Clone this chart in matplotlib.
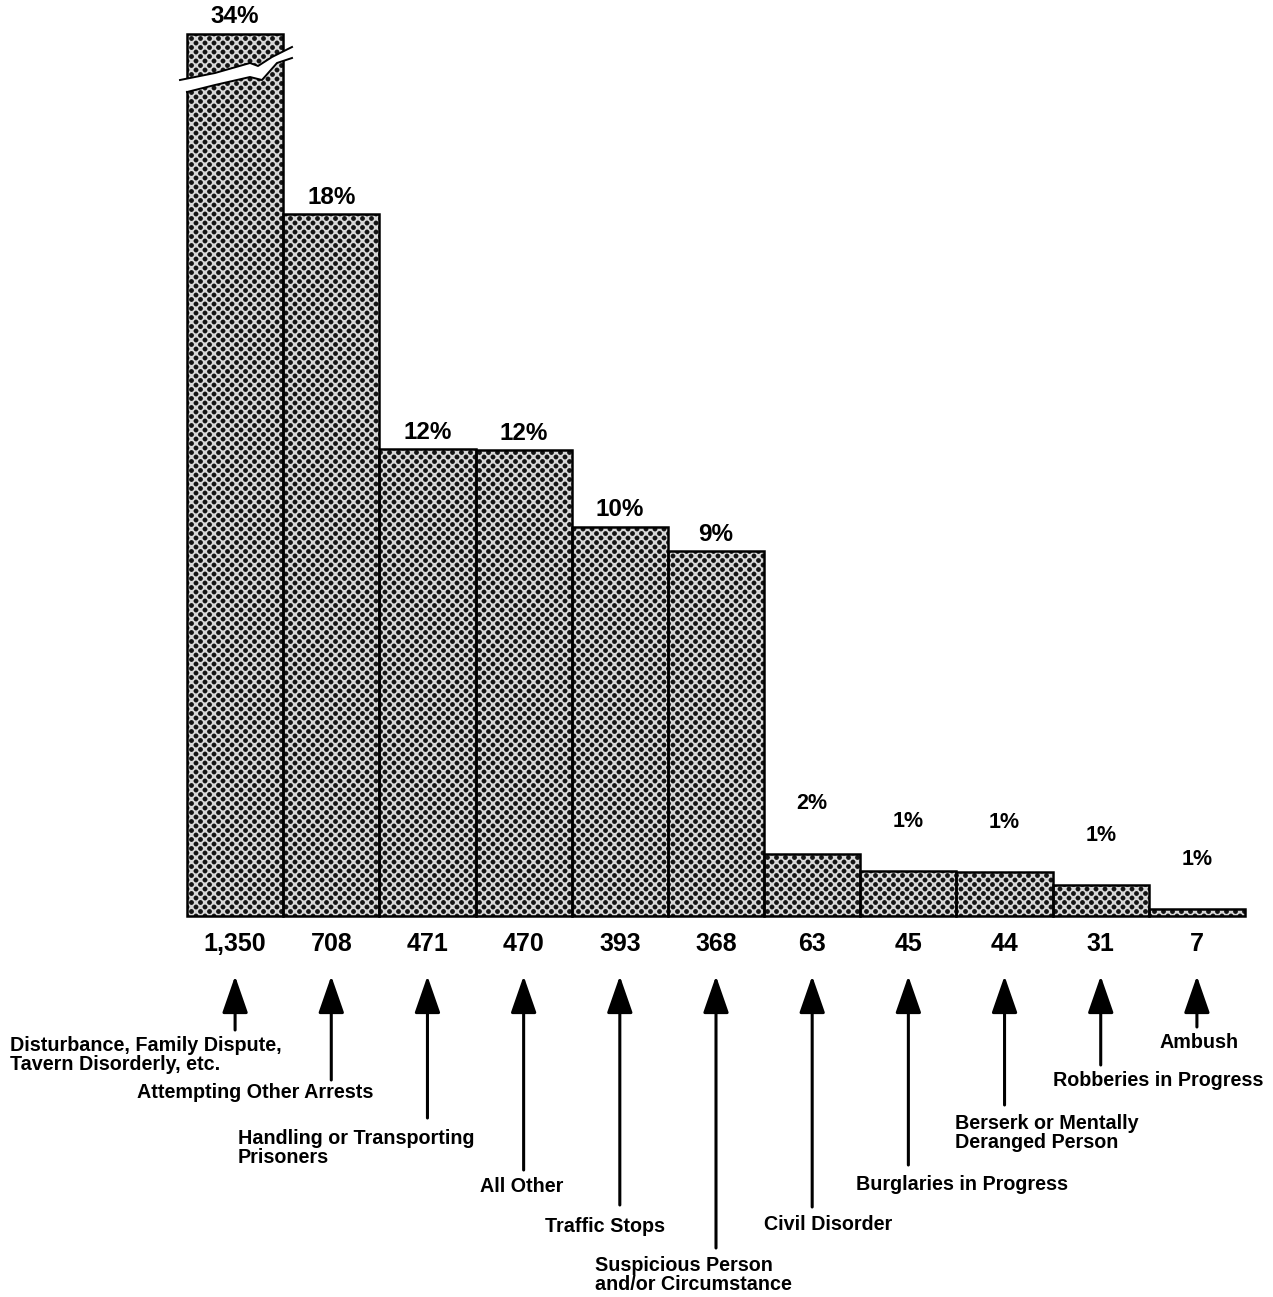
import matplotlib
matplotlib.use("Agg")
import numpy as np
import matplotlib.pyplot as plt
from matplotlib.patches import Polygon
from matplotlib.path import Path
from matplotlib.transforms import blended_transform_factory

# ------------------------------- datos ---------------------------------
categorias = [
    "Disturbance, Family Dispute,\nTavern Disorderly, etc.",
    "Attempting Other Arrests",
    "Handling or Transporting\nPrisoners",
    "All Other",
    "Traffic Stops",
    "Suspicious Person\nand/or Circumstance",
    "Civil Disorder",
    "Burglaries in Progress",
    "Berserk or Mentally\nDeranged Person",
    "Robberies in Progress",
    "Ambush",
]
conteos = [1350, 708, 471, 470, 393, 368, 63, 45, 44, 31, 7]
porcentajes = [34, 18, 12, 12, 10, 9, 2, 1, 1, 1, 1]

# --------------------------- estilo / layout ---------------------------
W, H = 1273, 1297
Y_TOPE = 890          # la primera barra se corta (eje roto)
ANGOSTA = ["Liberation Sans Narrow", "Liberation Sans", "DejaVu Sans"]
NORMAL = ["Liberation Sans", "DejaVu Sans"]

# posiciones de las etiquetas en pixeles: (x izquierda, y centro)
pos_etiquetas = [(10, 1055), (137, 1093), (238, 1148), (480, 1187),
                 (545, 1227), (595, 1275), (764, 1224), (856, 1185),
                 (955, 1133), (1053, 1081), (1160, 1043)]
cola_flecha = [1030, 1080, 1118, 1170, 1205, 1248, 1207, 1165, 1105, 1065, 1027]
punta_flecha = 976

AX_L, AX_R, AX_B, AX_T = 187, 1245, 916, 34


def fy(py):
    return 1 - py / H


def trama_puntos(ancho, alto, paso=9.0, radio=2.4, fondo=0.84, punto=0.08):
    # textura de puntos en retícula diagonal (como el tramado del original)
    yy, xx = np.mgrid[0:alto, 0:ancho] + 0.5
    u, v = xx / paso, yy / paso
    d1 = np.hypot(u - np.round(u), v - np.round(v))
    d2 = np.hypot(u - 0.5 - np.round(u - 0.5), v - 0.5 - np.round(v - 0.5))
    d = np.minimum(d1, d2) * paso
    t = np.clip(d - radio + 0.5, 0, 1)
    return punto + (fondo - punto) * t


fig = plt.figure(figsize=(W / 100, H / 100), dpi=100)
ax = fig.add_axes([AX_L / W, fy(AX_B), (AX_R - AX_L) / W, (AX_B - AX_T) / H])

x = list(range(len(conteos)))
alturas = [min(c, Y_TOPE) for c in conteos]
barras = ax.bar(x, alturas, width=1.0, facecolor="none", edgecolor="black",
                linewidth=1.8, clip_on=False, zorder=3)

ax.set_xlim(-0.5, len(conteos) - 0.5)
ax.set_ylim(0, Y_TOPE)
ax.axis("off")

# relleno punteado recortado a la forma de las barras
trama = trama_puntos(AX_R - AX_L, AX_B - AX_T)
img = ax.imshow(trama, cmap="gray", vmin=0, vmax=1, origin="lower",
                extent=(-0.5, len(conteos) - 0.5, 0, Y_TOPE), aspect="auto",
                interpolation="nearest", zorder=1)
forma = Path.make_compound_path(
    *[b.get_path().transformed(b.get_patch_transform()) for b in barras])
img.set_clip_path(forma, ax.transData)

# corte de la primera barra (coordenadas de eje)
def ax_frac(px, py):
    return ((px - AX_L) / (AX_R - AX_L), (AX_B - py) / (AX_B - AX_T))

borde_sup = [(180, 80), (215, 73), (250, 63), (258, 66), (272, 57), (292, 47)]
borde_inf = [(292, 58), (277, 63), (262, 80), (250, 77), (215, 85), (187, 92)]
hueco = Polygon([ax_frac(*p) for p in borde_sup + borde_inf], closed=True,
                transform=ax.transAxes, facecolor="white", edgecolor="none",
                zorder=5, clip_on=False)
ax.add_patch(hueco)
for borde in (borde_sup, borde_inf):
    xs, ys = zip(*[ax_frac(*p) for p in borde])
    ax.plot(xs, ys, color="black", lw=1.4, transform=ax.transAxes,
            zorder=6, clip_on=False)

# porcentajes sobre las barras
for i, (h, p) in enumerate(zip(alturas, porcentajes)):
    if i < 6:
        ax.annotate(f"{p}%", (i, h), xytext=(0, 4), textcoords="offset points",
                    ha="center", va="bottom", fontsize=17.5, fontweight="bold",
                    family=ANGOSTA, zorder=7)
    else:
        ax.annotate(f"{p}%", (i, h), xytext=(0, 36), textcoords="offset points",
                    ha="center", va="center", fontsize=15.5, fontweight="bold",
                    family=NORMAL)

# numeros bajo las barras
trans_num = blended_transform_factory(ax.transData, fig.transFigure)
for i, c in enumerate(conteos):
    ax.text(i, fy(944), f"{c:,}", transform=trans_num, ha="center", va="center",
            fontsize=18, fontweight="bold", family=ANGOSTA)

# flechas y etiquetas de categoria
for i, (cat, (lx, ly), cola) in enumerate(zip(categorias, pos_etiquetas, cola_flecha)):
    ax.annotate("", xy=(i, fy(punta_flecha)), xytext=(i, fy(cola)),
                xycoords=("data", "figure fraction"),
                textcoords=("data", "figure fraction"),
                arrowprops=dict(arrowstyle="-|>,head_length=2.3,head_width=0.8",
                                color="black", lw=2.2, mutation_scale=10,
                                shrinkA=0, shrinkB=0))
    fig.text(lx / W, fy(ly), cat, ha="left", va="center", fontsize=14.2,
             fontweight="bold", family=NORMAL, linespacing=1.05)

fig.savefig("out.png", dpi=100, facecolor="white")
